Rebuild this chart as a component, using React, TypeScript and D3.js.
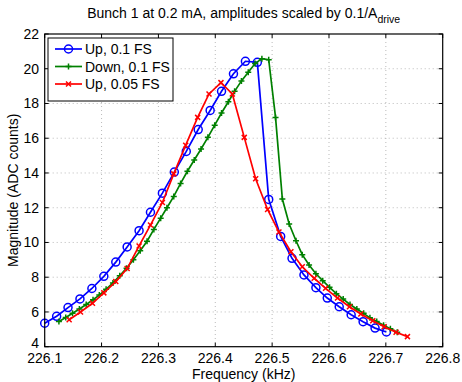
import React from "react";
import * as d3 from "d3";

const xTicks = [226.1, 226.2, 226.3, 226.4, 226.5, 226.6, 226.7, 226.8];
const yTicks = [4, 6, 8, 10, 12, 14, 16, 18, 20, 22];

const upFreq = [226.100, 226.121, 226.141, 226.162, 226.183, 226.204, 226.225, 226.245, 226.266, 226.286,
  226.307, 226.328, 226.349, 226.370, 226.391, 226.411, 226.432, 226.453, 226.474, 226.494,
  226.515, 226.535, 226.556, 226.577, 226.597, 226.618, 226.639, 226.660, 226.681, 226.701];
const upMag = [5.35, 5.75, 6.25, 6.75, 7.35, 8.05, 8.87, 9.74, 10.68, 11.74,
  12.84, 14.05, 15.24, 16.5, 17.6, 18.7, 19.71, 20.43, 20.37, 12.48,
  10.35, 9.09, 8.13, 7.40, 6.80, 6.30, 5.84, 5.44, 5.07, 4.85];

const downFreq = [226.125, 226.137, 226.149, 226.161, 226.173, 226.185, 226.196, 226.208, 226.220, 226.232,
  226.244, 226.256, 226.268, 226.280, 226.292, 226.304, 226.315, 226.327, 226.339, 226.351,
  226.363, 226.375, 226.387, 226.399, 226.411, 226.423, 226.434, 226.446, 226.458, 226.470,
  226.482, 226.494, 226.506, 226.518, 226.530, 226.542, 226.553, 226.565, 226.577, 226.589,
  226.601, 226.613, 226.625, 226.637, 226.649, 226.661, 226.672, 226.684, 226.696, 226.708, 226.720];
const downMag = [5.45, 5.68, 5.92, 6.17, 6.43, 6.70, 6.97, 7.30, 7.67, 8.08,
  8.52, 9.0, 9.52, 10.07, 10.75, 11.4, 12.0, 12.65, 13.4, 14.1,
  14.75, 15.38, 16.05, 16.75, 17.45, 18.1, 18.7, 19.3, 19.8, 20.3,
  20.58, 20.52, 17.2, 12.5, 11.06, 10.1, 9.3, 8.7, 8.2, 7.8,
  7.42, 7.05, 6.74, 6.43, 6.17, 5.92, 5.66, 5.45, 5.24, 5.03, 4.83];

const up05Freq = [226.143, 226.163, 226.184, 226.204, 226.225, 226.245, 226.266, 226.286, 226.307, 226.327,
  226.348, 226.369, 226.389, 226.410, 226.430, 226.451, 226.471, 226.492, 226.512, 226.533,
  226.553, 226.574, 226.594, 226.615, 226.636, 226.656, 226.677, 226.697, 226.718, 226.738];
const up05Mag = [5.55, 6.0, 6.5, 7.1, 7.75, 8.5, 9.8, 11.0, 12.3, 13.95,
  15.6, 17.2, 18.55, 19.2, 18.55, 16.05, 13.67, 11.9, 10.6, 9.47,
  8.6, 7.94, 7.36, 6.8, 6.3, 5.88, 5.49, 5.15, 4.83, 4.58];

const seriesNames = ["Up, 0.1 FS", "Down, 0.1 FS", "Up, 0.05 FS"];
const seriesColors = ["#0000ff", "#008000", "#ff0000"];

const left = 44.7, right = 442.7, top = 34, bottom = 346.7;
const FONT = "'Liberation Sans', Arial, Helvetica, sans-serif";
const FS = 14;

function Marker({ kind, x, y, color }: { kind: number; x: number; y: number; color: string }) {
  if (kind === 0) return <circle cx={x} cy={y} r={4} fill="none" stroke={color} strokeWidth={1.5} />;
  if (kind === 1)
    return (
      <path d={`M${x - 3},${y}H${x + 3}M${x},${y - 3}V${y + 3}`} stroke={color} strokeWidth={1.5} />
    );
  return (
    <path d={`M${x - 2.5},${y - 2.5}L${x + 2.5},${y + 2.5}M${x - 2.5},${y + 2.5}L${x + 2.5},${y - 2.5}`} stroke={color} strokeWidth={1.5} />
  );
}

export default function App() {
  const x = d3.scaleLinear().domain([226.1, 226.8]).range([left, right]);
  const y = d3.scaleLinear().domain([4, 22]).range([bottom, top]);
  const line = d3.line<[number, number]>().x((d) => x(d[0])).y((d) => y(d[1]));
  const series = [
    upFreq.map((f, i) => [f, upMag[i]] as [number, number]),
    downFreq.map((f, i) => [f, downMag[i]] as [number, number]),
    up05Freq.map((f, i) => [f, up05Mag[i]] as [number, number]),
  ];
  const tl = 4;
  return (
    <svg width={462} height={382} style={{ position: "absolute", left: 0, top: 0, background: "#fff" }} fontFamily={FONT}>
      <rect x={0} y={0} width={462} height={382} fill="#fff" />
      {xTicks.slice(1, -1).map((t) => (
        <line key={"gx" + t} x1={x(t)} x2={x(t)} y1={top} y2={bottom} stroke="#aaa" strokeWidth={0.8} strokeDasharray="1,3" />
      ))}
      {yTicks.slice(1, -1).map((t) => (
        <line key={"gy" + t} x1={left} x2={right} y1={y(t)} y2={y(t)} stroke="#aaa" strokeWidth={0.8} strokeDasharray="1,3" />
      ))}
      {series.map((s, k) => (
        <g key={"s" + k}>
          <path d={line(s) || ""} fill="none" stroke={seriesColors[k]} strokeWidth={1.7} />
          {s.map((d, i) => (
            <Marker key={i} kind={k} x={x(d[0])} y={y(d[1])} color={seriesColors[k]} />
          ))}
        </g>
      ))}
      <rect x={left} y={top} width={right - left} height={bottom - top} fill="none" stroke="#000" strokeWidth={1.2} />
      {xTicks.map((t) => (
        <g key={"tx" + t}>
          <line x1={x(t)} x2={x(t)} y1={bottom} y2={bottom - tl} stroke="#000" />
          <line x1={x(t)} x2={x(t)} y1={top} y2={top + tl} stroke="#000" />
          <text x={x(t)} y={362.5} textAnchor="middle" fontSize={FS} fill="#000">
            {t.toFixed(1)}
          </text>
        </g>
      ))}
      {yTicks.map((t) => (
        <g key={"ty" + t}>
          <line x1={left} x2={left + tl} y1={y(t)} y2={y(t)} stroke="#000" />
          <line x1={right} x2={right - tl} y1={y(t)} y2={y(t)} stroke="#000" />
          <text x={39} y={t === 4 ? y(t) + 1 : y(t) + 5} textAnchor="end" fontSize={FS} fill="#000">
            {t}
          </text>
        </g>
      ))}
      <text x={(left + right) / 2} y={378.5} textAnchor="middle" fontSize={FS} fill="#000">
        Frequency (kHz)
      </text>
      <text transform={`translate(18,${(top + bottom) / 2}) rotate(-90)`} textAnchor="middle" fontSize={FS} fill="#000">
        Magnitude (ADC counts)
      </text>
      <text x={(left + right) / 2} y={18} textAnchor="middle" fontSize={FS} fill="#000">
        <tspan>Bunch 1 at 0.2 mA, amplitudes scaled by 0.1/A</tspan>
        <tspan fontSize={10.5} dy={5}>drive</tspan>
      </text>
      <rect x={48} y={38} width={125} height={63} fill="#fff" stroke="#000" strokeWidth={1} />
      {seriesNames.map((n, k) => {
        const ly = 49 + k * 17.5;
        return (
          <g key={"l" + k}>
            <line x1={55} x2={82} y1={ly} y2={ly} stroke={seriesColors[k]} strokeWidth={1.7} />
            <Marker kind={k} x={68.5} y={ly} color={seriesColors[k]} />
            <text x={85} y={ly + 5} fontSize={FS} fill="#000">
              {n}
            </text>
          </g>
        );
      })}
    </svg>
  );
}
